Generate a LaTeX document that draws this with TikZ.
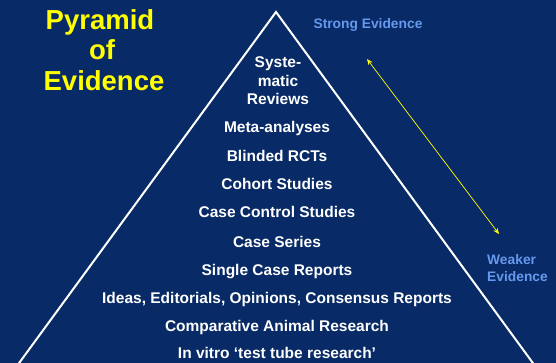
\documentclass[tikz,border=0pt]{standalone}
\usepackage{fontspec}
\setmainfont{Liberation Sans}
\usetikzlibrary{arrows.meta}
\definecolor{navy}{RGB}{8,42,102}
\definecolor{skyblue}{RGB}{102,153,238}
\definecolor{titleyellow}{RGB}{255,255,0}
\tikzset{
  level/.style={text=white, font=\fontsize{15.5}{18}\selectfont\bfseries, anchor=base, inner sep=0pt},
  titletext/.style={text=titleyellow, font=\fontsize{27.5}{30}\selectfont\bfseries, anchor=base, inner sep=0pt},
  sidelabel/.style={text=skyblue, font=\fontsize{13.8}{17}\selectfont\bfseries, anchor=base, inner sep=0pt},
  outline/.style={draw=white, line width=2pt},
  grade/.style={draw=titleyellow, line width=0.7pt, {Stealth[length=6pt,width=5pt]}-{Stealth[length=6pt,width=5pt]}}
}
\begin{document}
\begin{tikzpicture}[x=1pt, y=-1pt]
  % background
  \fill[navy] (0,0) rectangle (556,363);
  \useasboundingbox (0,0) rectangle (556,363);

  % pyramid outline
  \coordinate (apex) at (276,12);
  \coordinate (baseL) at (14,370);
  \coordinate (baseR) at (538,370);
  \draw[outline] (baseL) -- (apex) -- (baseR);

  % title
  \node[titletext] (t1) at (100,30) {Pyramid};
  \node[titletext] (t2) at (102,60) {of};
  \node[titletext] (t3) at (104,91) {Evidence};

  % levels of the pyramid
  \node[level] (l1a) at (278,68) {Syste-};
  \node[level] (l1b) at (278,87) {matic};
  \node[level] (l1c) at (278,105) {Reviews};
  \node[level] (l2) at (277,133) {Meta-analyses};
  \node[level] (l3) at (277,162) {Blinded RCTs};
  \node[level] (l4) at (277,190) {Cohort Studies};
  \node[level] (l5) at (277,218) {Case Control Studies};
  \node[level] (l6) at (277,247) {Case Series};
  \node[level] (l7) at (277,275) {Single Case Reports};
  \node[level] (l8) at (277,303) {Ideas, Editorials, Opinions, Consensus Reports};
  \node[level] (l9) at (277,331) {Comparative Animal Research};
  \node[level] (l10) at (277,358) {In vitro ‘test tube research’};

  % strength labels and arrow
  \node[sidelabel] (strong) at (368,29) {Strong Evidence};
  \node[sidelabel, anchor=base west] (weak1) at (487,264) {Weaker};
  \node[sidelabel, anchor=base west] (weak2) at (487,281) {Evidence};
  \coordinate (arrTop) at (367,59);
  \coordinate (arrBot) at (499,234);
  \draw[grade] (arrTop) -- (arrBot);
\end{tikzpicture}
\end{document}
